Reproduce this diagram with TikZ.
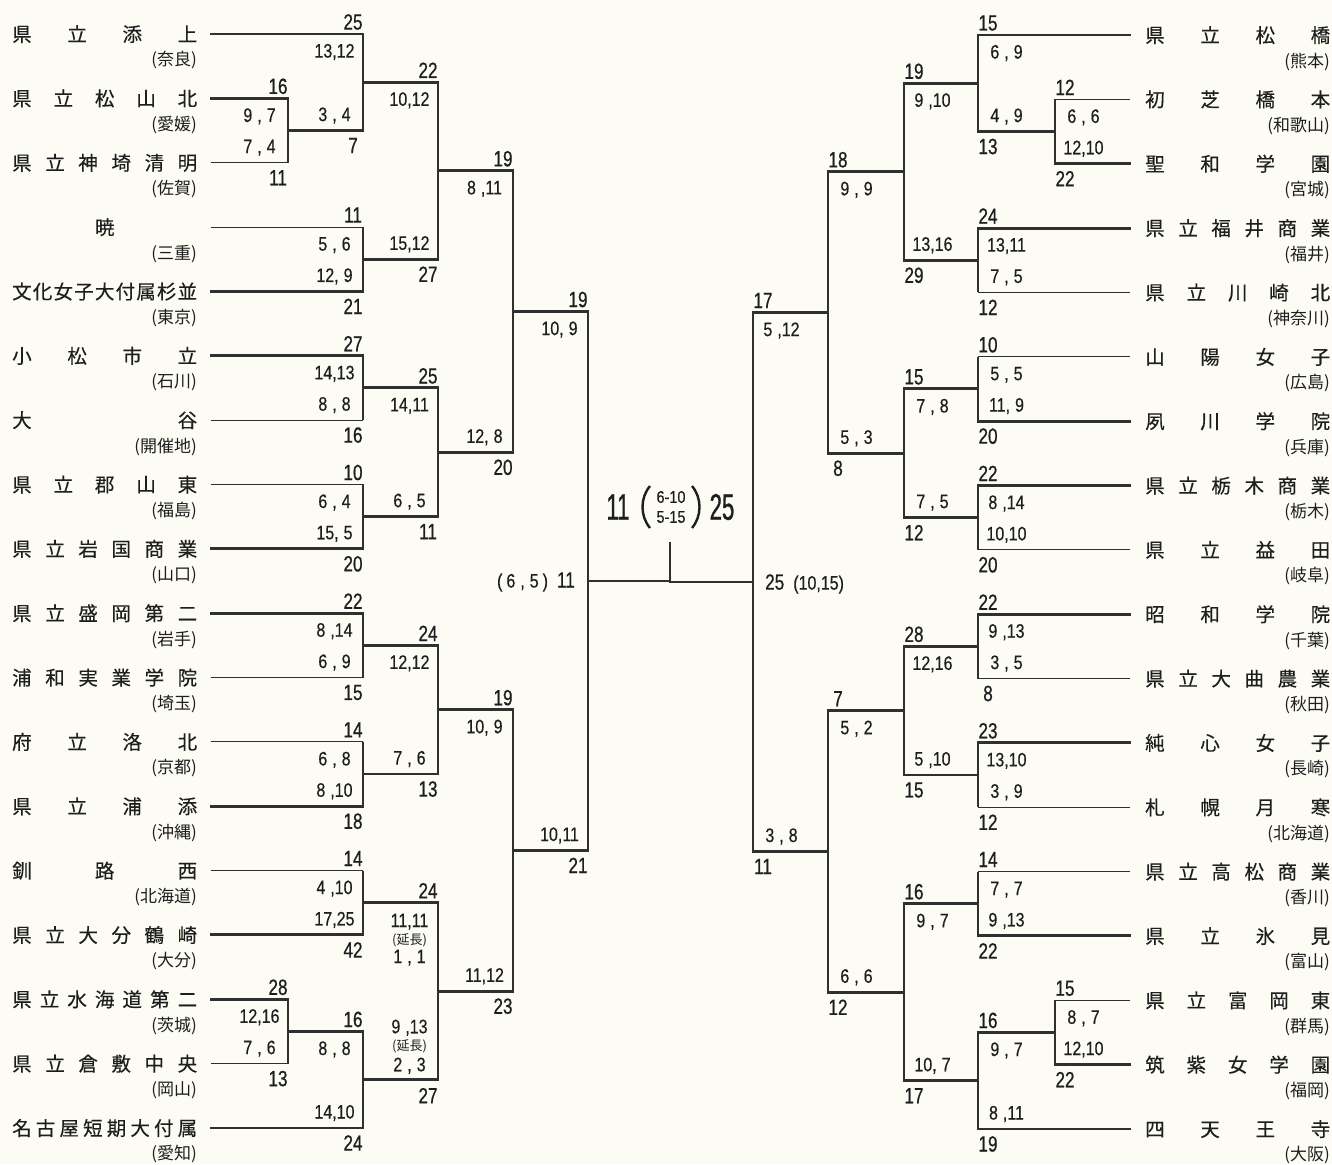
\documentclass[tikz,border=0pt]{standalone}
\usepackage{fontspec}
\setmainfont{Liberation Sans}
\newfontfamily\cjk[FakeBold=0.3]{Noto Sans CJK JP}
\newfontfamily\cjkp{Noto Sans CJK JP}
\newfontfamily\numfam[FakeStretch=0.78,FakeBold=0.6]{Liberation Sans}
\newfontfamily\innfam[FakeStretch=0.82,FakeBold=0.4]{Liberation Sans}
\newfontfamily\titfam[FakeStretch=0.6,FakeBold=0.8]{Liberation Sans}
\newfontfamily\frfam[FakeStretch=0.85,FakeBold=0.5]{Liberation Sans}
\usetikzlibrary{calc}
\newcommand\totfont{\numfam\fontsize{22}{22}\selectfont}
\newcommand\innfont{\innfam\fontsize{19.5}{19.5}\selectfont}
\newcommand\titfont{\titfam\fontsize{37}{37}\selectfont}
\newcommand\frfont{\frfam\fontsize{17}{17}\selectfont}
\newcommand\nmfont{\cjk\fontsize{19.5}{19.5}\selectfont}
\newcommand\pffont{\cjkp\fontsize{17}{17}\selectfont}
\newcommand\encfont{\cjkp\fontsize{13}{13}\selectfont}
\newcommand\sgap{\kern5pt}
\newcommand\jf{\hfill}
\definecolor{bgc}{RGB}{252,252,244}
\definecolor{ink}{RGB}{30,30,30}
\definecolor{lnk}{RGB}{48,48,48}
\tikzset{
  thk/.style={line width=2.9pt, draw=lnk, line cap=rect},
  thn/.style={line width=1.1pt, draw=lnk},
  tot/.style={font=\totfont, inner sep=0pt, text=ink},
  inn/.style={font=\innfont, inner sep=0pt, text=ink},
  enc/.style={font=\encfont, inner sep=0pt, text=ink},
  nmst/.style={font=\nmfont, inner sep=0pt, text=ink},
  pfst/.style={font=\pffont, inner sep=0pt, text=ink},
  tit/.style={font=\titfont, inner sep=0pt, text=ink},
  frst/.style={font=\frfont, inner sep=0pt, text=ink},
  par/.style={line width=2.4pt, draw=ink},
}
% match: name, V, top input, bottom input, winner(1/2), top style, bottom style
\newcommand\bmatch[7]{%
  \coordinate (#1) at ($(#3 -| #2,0)!0.5!(#4 -| #2,0)$);
  \draw[#6] (#3) -- (#3 -| #1);
  \draw[#7] (#4) -- (#4 -| #1);
  \ifnum#5=1
    \draw[thk] (#3 -| #1) -- (#1); \draw[thn] (#1) -- (#4 -| #1);
  \else
    \draw[thn] (#3 -| #1) -- (#1); \draw[thk] (#1) -- (#4 -| #1);
  \fi}
% labels: name, top, bottom, sign, top total, top innings, bottom innings, bottom total
\newcommand\blab[8]{%
  \node[tot] (#1a) at ($(#2 -| #1)+(#4*10,-12)$) {#5};
  \node[inn] (#1b) at ($(#2 -| #1)+(#4*28.5,18)$) {#6};
  \node[inn] (#1c) at ($(#3 -| #1)+(#4*28.5,-15)$) {#7};
  \node[tot] (#1d) at ($(#3 -| #1)+(#4*10,15)$) {#8};}
\begin{document}
\begin{tikzpicture}[x=1pt,y=-1pt]
\useasboundingbox (0,0) rectangle (1332,1164);
\fill[bgc] (0,0) rectangle (1332,1164);
% left teams
\foreach \i/\nm/\pf in {
 0/{県\jf 立\jf 添\jf 上}/奈良,
 1/{県\jf 立\jf 松\jf 山\jf 北}/愛媛,
 2/{県\jf 立\jf 神\jf 埼\jf 清\jf 明}/佐賀,
 3/{\jf 暁\jf }/三重,
 4/{文\jf 化\jf 女\jf 子\jf 大\jf 付\jf 属\jf 杉\jf 並}/東京,
 5/{小\jf 松\jf 市\jf 立}/石川,
 6/{大\jf 谷}/開催地,
 7/{県\jf 立\jf 郡\jf 山\jf 東}/福島,
 8/{県\jf 立\jf 岩\jf 国\jf 商\jf 業}/山口,
 9/{県\jf 立\jf 盛\jf 岡\jf 第\jf 二}/岩手,
 10/{浦\jf 和\jf 実\jf 業\jf 学\jf 院}/埼玉,
 11/{府\jf 立\jf 洛\jf 北}/京都,
 12/{県\jf 立\jf 浦\jf 添}/沖縄,
 13/{釧\jf 路\jf 西}/北海道,
 14/{県\jf 立\jf 大\jf 分\jf 鶴\jf 崎}/大分,
 15/{県\jf 立\jf 水\jf 海\jf 道\jf 第\jf 二}/茨城,
 16/{県\jf 立\jf 倉\jf 敷\jf 中\jf 央}/岡山,
 17/{名\jf 古\jf 屋\jf 短\jf 期\jf 大\jf 付\jf 属}/愛知}{
  \pgfmathsetmacro\yy{34+64.35*\i}
  \coordinate (L\i) at (211,\yy);
  \node[nmst, anchor=base west] (nL\i) at (12,\yy+7.5) {\makebox[185pt]{\nm}};
  \node[pfst, anchor=base east] (pL\i) at (197,\yy+32) {(\pf)};
}
% right teams
\foreach \i/\nm/\pf in {
 0/{県\jf 立\jf 松\jf 橋}/熊本,
 1/{初\jf 芝\jf 橋\jf 本}/和歌山,
 2/{聖\jf 和\jf 学\jf 園}/宮城,
 3/{県\jf 立\jf 福\jf 井\jf 商\jf 業}/福井,
 4/{県\jf 立\jf 川\jf 崎\jf 北}/神奈川,
 5/{山\jf 陽\jf 女\jf 子}/広島,
 6/{夙\jf 川\jf 学\jf 院}/兵庫,
 7/{県\jf 立\jf 栃\jf 木\jf 商\jf 業}/栃木,
 8/{県\jf 立\jf 益\jf 田}/岐阜,
 9/{昭\jf 和\jf 学\jf 院}/千葉,
 10/{県\jf 立\jf 大\jf 曲\jf 農\jf 業}/秋田,
 11/{純\jf 心\jf 女\jf 子}/長崎,
 12/{札\jf 幌\jf 月\jf 寒}/北海道,
 13/{県\jf 立\jf 高\jf 松\jf 商\jf 業}/香川,
 14/{県\jf 立\jf 氷\jf 見}/富山,
 15/{県\jf 立\jf 富\jf 岡\jf 東}/群馬,
 16/{筑\jf 紫\jf 女\jf 学\jf 園}/福岡,
 17/{四\jf 天\jf 王\jf 寺}/大阪}{
  \pgfmathsetmacro\yy{35+64.35*\i}
  \coordinate (R\i) at (1130,\yy);
  \node[nmst, anchor=base west] (nR\i) at (1145,\yy+7.5) {\makebox[185pt]{\nm}};
  \node[pfst, anchor=base east] (pR\i) at (1330,\yy+32) {(\pf)};
}
% left bracket
\bmatch{A1}{288}{L1}{L2}{1}{thk}{thn}
\bmatch{A2}{363}{L0}{A1}{1}{thk}{thk}
\bmatch{A3}{363}{L3}{L4}{2}{thn}{thk}
\bmatch{A4}{438}{A2}{A3}{2}{thk}{thk}
\bmatch{A5}{363}{L5}{L6}{1}{thk}{thn}
\bmatch{A6}{363}{L7}{L8}{2}{thn}{thk}
\bmatch{A7}{438}{A5}{A6}{1}{thk}{thk}
\bmatch{A8}{513}{A4}{A7}{2}{thk}{thk}
\bmatch{B1}{363}{L9}{L10}{1}{thk}{thn}
\bmatch{B2}{363}{L11}{L12}{2}{thn}{thk}
\bmatch{B3}{438}{B1}{B2}{1}{thk}{thk}
\bmatch{B4}{363}{L13}{L14}{2}{thn}{thk}
\bmatch{B5}{288}{L15}{L16}{1}{thk}{thn}
\bmatch{B6}{363}{B5}{L17}{2}{thk}{thk}
\bmatch{B7}{438}{B4}{B6}{2}{thk}{thk}
\bmatch{B8}{513}{B3}{B7}{2}{thk}{thk}
\bmatch{F1}{588}{A8}{B8}{2}{thk}{thk}
% right bracket
\bmatch{C1}{1055}{R1}{R2}{2}{thn}{thk}
\bmatch{C2}{978}{R0}{C1}{1}{thk}{thk}
\bmatch{C3}{978}{R3}{R4}{1}{thk}{thn}
\bmatch{C4}{904}{C2}{C3}{2}{thk}{thk}
\bmatch{C5}{978}{R5}{R6}{2}{thn}{thk}
\bmatch{C6}{978}{R7}{R8}{1}{thk}{thn}
\bmatch{C7}{904}{C5}{C6}{1}{thk}{thk}
\bmatch{C8}{828}{C4}{C7}{1}{thk}{thk}
\bmatch{D1}{978}{R9}{R10}{1}{thk}{thn}
\bmatch{D2}{978}{R11}{R12}{1}{thk}{thn}
\bmatch{D3}{904}{D1}{D2}{1}{thk}{thk}
\bmatch{D4}{978}{R13}{R14}{2}{thn}{thk}
\bmatch{D5}{1055}{R15}{R16}{2}{thn}{thk}
\bmatch{D6}{978}{D5}{R17}{2}{thk}{thk}
\bmatch{D7}{904}{D4}{D6}{2}{thk}{thk}
\bmatch{D8}{828}{D3}{D7}{2}{thk}{thk}
\bmatch{F2}{753}{C8}{D8}{1}{thk}{thk}
% final
\coordinate (CF) at (670,581);
\coordinate (ST) at (670,543);
\draw[thn] (F1) -- (F1 -| CF);
\draw[thk] (F2) -- (F2 -| CF);
\draw[thk] (ST) -- (ST |- CF);
% left labels
\blab{A1}{L1}{L2}{-1}{16}{9\sgap,\sgap7}{7\sgap,\sgap4}{11}
\blab{A2}{L0}{A1}{-1}{25}{13,12}{3\sgap,\sgap4}{7}
\blab{A3}{L3}{L4}{-1}{11}{5\sgap,\sgap6}{12,\sgap9}{21}
\blab{A4}{A2}{A3}{-1}{22}{10,12}{15,12}{27}
\blab{A5}{L5}{L6}{-1}{27}{14,13}{8\sgap,\sgap8}{16}
\blab{A6}{L7}{L8}{-1}{10}{6\sgap,\sgap4}{15,\sgap5}{20}
\blab{A7}{A5}{A6}{-1}{25}{14,11}{6\sgap,\sgap5}{11}
\blab{A8}{A4}{A7}{-1}{19}{8\sgap,11}{12,\sgap8}{20}
\blab{B1}{L9}{L10}{-1}{22}{8\sgap,14}{6\sgap,\sgap9}{15}
\blab{B2}{L11}{L12}{-1}{14}{6\sgap,\sgap8}{8\sgap,10}{18}
\blab{B3}{B1}{B2}{-1}{24}{12,12}{7\sgap,\sgap6}{13}
\blab{B4}{L13}{L14}{-1}{14}{4\sgap,10}{17,25}{42}
\blab{B5}{L15}{L16}{-1}{28}{12,16}{7\sgap,\sgap6}{13}
\blab{B6}{B5}{L17}{-1}{16}{8\sgap,\sgap8}{14,10}{24}
\blab{B8}{B3}{B7}{-1}{19}{10,\sgap9}{11,12}{23}
\blab{F1}{A8}{B8}{-1}{19}{10,\sgap9}{10,11}{21}
\node[tot] (B7a) at ($(B4 -| B7)+(-10,-12)$) {24};
\node[inn] (B7b) at ($(B4 -| B7)+(-28.5,19)$) {11,11};
\node[enc] (B7c) at ($(B4 -| B7)+(-28.5,37.5)$) {(延長)};
\node[inn] (B7d) at ($(B4 -| B7)+(-28.5,55)$) {1\sgap,\sgap1};
\node[inn] (B7e) at ($(B6 -| B7)+(-28.5,-52)$) {9\sgap,13};
\node[enc] (B7f) at ($(B6 -| B7)+(-28.5,-33.5)$) {(延長)};
\node[inn] (B7g) at ($(B6 -| B7)+(-28.5,-14)$) {2\sgap,\sgap3};
\node[tot] (B7h) at ($(B6 -| B7)+(-10,16)$) {27};
% right labels
\blab{C1}{R1}{R2}{1}{12}{6\sgap,\sgap6}{12,10}{22}
\blab{C2}{R0}{C1}{1}{15}{6\sgap,\sgap9}{4\sgap,\sgap9}{13}
\blab{C3}{R3}{R4}{1}{24}{13,11}{7\sgap,\sgap5}{12}
\blab{C4}{C2}{C3}{1}{19}{9\sgap,10}{13,16}{29}
\blab{C5}{R5}{R6}{1}{10}{5\sgap,\sgap5}{11,\sgap9}{20}
\blab{C6}{R7}{R8}{1}{22}{8\sgap,14}{10,10}{20}
\blab{C7}{C5}{C6}{1}{15}{7\sgap,\sgap8}{7\sgap,\sgap5}{12}
\blab{C8}{C4}{C7}{1}{18}{9\sgap,\sgap9}{5\sgap,\sgap3}{8}
\blab{D1}{R9}{R10}{1}{22}{9\sgap,13}{3\sgap,\sgap5}{8}
\blab{D2}{R11}{R12}{1}{23}{13,10}{3\sgap,\sgap9}{12}
\blab{D3}{D1}{D2}{1}{28}{12,16}{5\sgap,10}{15}
\blab{D4}{R13}{R14}{1}{14}{7\sgap,\sgap7}{9\sgap,13}{22}
\blab{D5}{R15}{R16}{1}{15}{8\sgap,\sgap7}{12,10}{22}
\blab{D6}{D5}{R17}{1}{16}{9\sgap,\sgap7}{8\sgap,11}{19}
\blab{D7}{D4}{D6}{1}{16}{9\sgap,\sgap7}{10,\sgap7}{17}
\blab{D8}{D3}{D7}{1}{7}{5\sgap,\sgap2}{6\sgap,\sgap6}{12}
\blab{F2}{C8}{D8}{1}{17}{5\sgap,12}{3\sgap,\sgap8}{11}
% final result labels
\node[anchor=east, inner sep=0pt, text=ink] (F1r) at ($(F1)+(-13,1)$)
  {{\innfont (\kern4pt 6\sgap,\sgap5\kern4pt)}\hspace{9pt}{\totfont 11}};
\node[anchor=west, inner sep=0pt, text=ink] (F2r) at ($(F2)+(12,2)$)
  {{\totfont 25}\hspace{9pt}{\innfont (10,15)}};
% title
\node[tit] (T11) at (618,507) {11};
\draw[par] (650,486) .. controls (640,498) and (640,516) .. (650,528);
\node[frst] (Ta) at (671,497) {6-10};
\node[frst] (Tb) at (671,517) {5-15};
\draw[par] (692,486) .. controls (702,498) and (702,516) .. (692,528);
\node[tit] (T25) at (722,507) {25};
\end{tikzpicture}
\end{document}
